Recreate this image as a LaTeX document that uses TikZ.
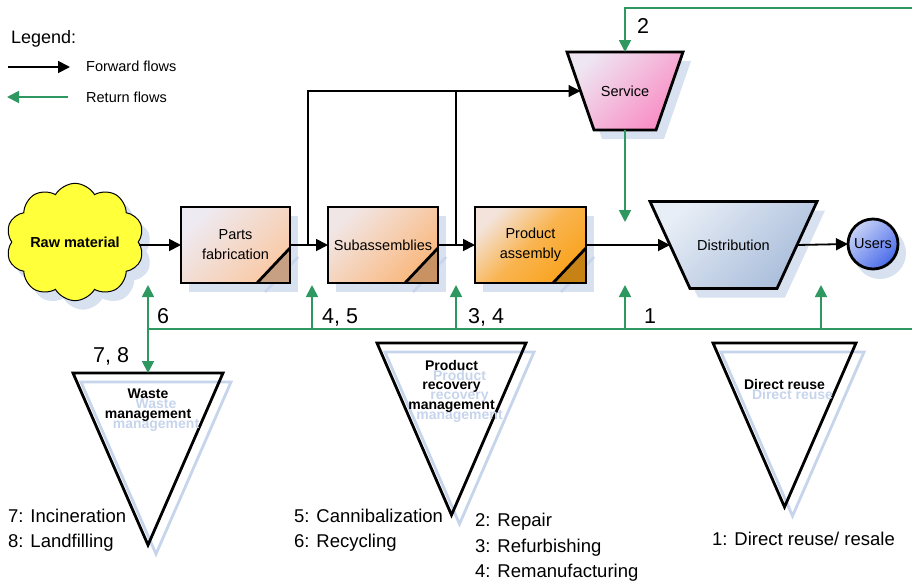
\documentclass[tikz,border=0pt]{standalone}
\usepackage{fontspec}
\setmainfont{Liberation Sans}
\usetikzlibrary{shapes.geometric,shapes.symbols,arrows.meta,calc,backgrounds}

\definecolor{retgreen}{RGB}{46,152,96}
\definecolor{shadowblue}{HTML}{D8E1F0}
\definecolor{ghostblue}{HTML}{C6D4EC}
\definecolor{cloudyellow}{HTML}{FFFF3A}
\definecolor{pfA}{HTML}{EEEAF2}
\definecolor{pfB}{HTML}{F9C9A4}
\definecolor{subA}{HTML}{F1E6E6}
\definecolor{subB}{HTML}{FAB77C}
\definecolor{paA}{HTML}{F3E3DA}
\definecolor{paM}{HTML}{F9B450}
\definecolor{paB}{HTML}{F9A31C}
\definecolor{svcA}{HTML}{EEE6F2}
\definecolor{svcB}{HTML}{F98CC4}
\definecolor{distA}{HTML}{E8EEF6}
\definecolor{distB}{HTML}{A8BCDA}
\definecolor{usrA}{HTML}{C8D3F6}
\definecolor{usrB}{HTML}{4A6BEA}

\begin{document}
\begin{tikzpicture}[x=1pt,y=-1pt,
  fwdarrow/.style={draw=black,line width=1.8pt,-{Triangle[length=12pt,width=12pt]}},
  branch/.style={draw=black,line width=1.2pt},
  brancharrow/.style={branch,-{Triangle[length=12pt,width=12pt]}},
  retline/.style={draw=retgreen,line width=1.8pt},
  retarrow/.style={retline,-{Triangle[length=12pt,width=12pt]}},
  boxtext/.style={font=\fontsize{14.5}{20}\selectfont,align=center},
  stagebox/.style={rectangle,draw=black,line width=2.8pt,outer sep=0pt,inner sep=2pt,
    minimum height=76pt,boxtext},
  trapholder/.style={rectangle,outer sep=0pt,inner sep=0pt,boxtext},
  trapedge/.style={draw=black,line width=2.8pt,line join=miter},
  cloudshape/.style={cloud,cloud puffs=10,cloud puff arc=120,aspect=1.27,
    minimum width=122pt,minimum height=96pt,inner sep=0pt,
    font=\bfseries\fontsize{14.5}{17}\selectfont},
  triedge/.style={draw=black,line width=2.8pt,line join=miter},
  triedgeghost/.style={draw=ghostblue,line width=2.8pt},
  trilbl/.style={inner sep=0pt,align=center,font=\bfseries\fontsize{14}{19.5}\selectfont},
  ghostlbl/.style={trilbl,text=ghostblue},
  keylbl/.style={inner sep=0pt,anchor=west,font=\fontsize{14.5}{17}\selectfont},
  listlbl/.style={inner sep=0pt,anchor=base west,font=\fontsize{18.5}{22}\selectfont},
  numlbl/.style={inner sep=0pt,anchor=base west,font=\fontsize{21.5}{24}\selectfont}
]
\useasboundingbox (0,0) rectangle (912,582);

% ---------- legend ----------
\node[inner sep=0pt,anchor=base west,font=\fontsize{18}{20}\selectfont] (legend) at (11,43) {Legend:};
\coordinate (keyF1) at (8,67);
\coordinate (keyF2) at (70,67);
\draw[fwdarrow] (keyF1) -- (keyF2);
\node[keylbl] (keyfwd) at (86,66) {Forward flows};
\coordinate (keyR1) at (68,97);
\coordinate (keyR2) at (7,97);
\draw[retarrow] (keyR1) -- (keyR2);
\node[keylbl] (keyret) at (86,97) {Return flows};

% ---------- forward chain ----------
\node[cloudshape,draw=black,line width=1pt,fill=cloudyellow] (raw) at (75,242) {Raw material};
\node[stagebox,minimum width=109pt,top color=pfA,bottom color=pfB,shading angle=45]
  (pf) at (235.5,245) {Parts\\fabrication};
\node[stagebox,minimum width=110pt,top color=subA,bottom color=subB,shading angle=45]
  (sub) at (383,245) {Subassemblies};
\node[stagebox,minimum width=111pt,top color=paA,bottom color=paB,middle color=paM,shading angle=45]
  (pa) at (530.5,245) {Product\\assembly};
% the trapezoids are drawn from these holders (see the background layer)
\node[trapholder,minimum width=116pt,minimum height=78pt] (svc) at (625,91) {Service};
\node[trapholder,minimum width=167pt,minimum height=87pt] (dist) at (733.5,245) {Distribution};
\node[circle,draw=black,line width=2.8pt,minimum size=50pt,inner sep=0pt,outer sep=0pt,
  boxtext,top color=usrA,bottom color=usrB,shading angle=45] (users) at (873,244) {Users};
% mid points of the slanted sides
\coordinate (svcL) at ($(svc.west)+(13.5,0)$);
\coordinate (distL) at ($(dist.west)+(20,0)$);
\coordinate (distR) at ($(dist.east)+(-20,0)$);

% folded corners of the stage boxes
\foreach \b in {pf,sub,pa}{
  \fill[black,opacity=.2] ($(\b.south east)+(-33,0)$) -- (\b.south east) -- ($(\b.south east)+(0,-35)$) -- cycle;
  \draw[line width=2.8pt] ($(\b.south east)+(-33,0)$) -- ($(\b.south east)+(0,-35)$);
}

% forward flows
\draw[fwdarrow] (raw.east |- pf.west) -- (pf.west);
\draw[fwdarrow] (pf.east) -- (sub.west);
\draw[fwdarrow] (sub.east) -- (pa.west);
\draw[fwdarrow] (pa.east) -- (distL);
\draw[fwdarrow] (distR) -- (users.west);
\coordinate (j1) at (308,245);
\coordinate (j2) at (456,245);
\draw[brancharrow] (j1) |- (svcL);
\draw[branch] (j2) -- (j2 |- svcL);

% ---------- recovery options ----------
\coordinate (wasteTop) at (148,373);
\draw[triedge] (73,373) -- (223,373) -- (148,545) -- cycle;
\draw[triedge] (377,343) -- (526,343) -- (451.5,515) -- cycle;
\draw[triedge] (713,343) -- (856,343) -- (784.5,507) -- cycle;

\node[ghostlbl] at (156,415) {Waste\\management};
\node[ghostlbl] at (459.5,396) {Product\\recovery\\management};
\node[ghostlbl] at (792.5,394) {Direct reuse};
\node[trilbl] (waste) at (148,405) {Waste\\management};
\node[trilbl] (prm) at (451.5,386) {Product\\recovery\\management};
\node[trilbl] (reuse) at (784.5,384) {Direct reuse};

% ---------- return flows ----------
\coordinate (topR) at (912,8);
\draw[retarrow] (topR) -| (svc.north);
\coordinate (svcOut) at (625,222);
\draw[retarrow] (svc.south) -- (svcOut);

\coordinate (gL) at (148,329);
\coordinate (gR) at (912,329);
\draw[retline] (gL) -- (gR);
\draw[retarrow] (gL) -- (wasteTop);
\foreach \x in {148,312,456,625,821}{
  \coordinate (up\x) at (\x,329);
  \coordinate (tip\x) at (\x,285);
  \draw[retarrow] (up\x) -- (tip\x);
}

% flow numbers
\node[numlbl] (n2) at (637,33) {2};
\node[numlbl] (n6) at (157,323) {6};
\node[numlbl] (n78) at (93,362) {7, 8};
\node[numlbl] (n45) at (322,323) {4, 5};
\node[numlbl] (n34) at (468,323) {3, 4};
\node[numlbl] (n1) at (644,323) {1};

% option lists
\node[listlbl] (o7) at (8,522) {7: Incineration};
\node[listlbl] (o8) at (8,547) {8: Landfilling};
\node[listlbl] (o5) at (294,522) {5: Cannibalization};
\node[listlbl] (o6) at (294,547) {6: Recycling};
\node[listlbl] (o2) at (475,526) {2: Repair};
\node[listlbl] (o3) at (475,552) {3: Refurbishing};
\node[listlbl] (o4) at (475,577) {4: Remanufacturing};
\node[listlbl] (o1) at (712,545) {1: Direct reuse/ resale};

% ---------- drop shadows and trapezoid bodies ----------
\begin{scope}[on background layer]
  \node[cloudshape,fill=shadowblue] at ([shift={(8,9)}]raw.center) {\phantom{Raw material}};
  \foreach \b in {pf,sub,pa}{
    \fill[shadowblue] ([shift={(8,9)}]\b.north west) rectangle ([shift={(8,9)}]\b.south east);
    \draw[ghostblue,line width=2.5pt] ([shift={(-25,9)}]\b.south east) -- ([shift={(8,-26)}]\b.south east);
  }
  \foreach \t/\i in {svc/27,dist/40}{
    \fill[shadowblue] ([shift={(8,9)}]\t.north west) -- ([shift={(8,9)}]\t.north east)
      -- ([shift={(8-\i,9)}]\t.south east) -- ([shift={(8+\i,9)}]\t.south west) -- cycle;
  }
  \fill[shadowblue] ([shift={(7,9)}]users.center) circle[radius=26pt];
  \draw[triedgeghost] (81,382) -- (231,382) -- (156,554) -- cycle;
  \draw[triedgeghost] (385,352) -- (534,352) -- (459.5,524) -- cycle;
  \draw[triedgeghost] (721,352) -- (864,352) -- (792.5,516) -- cycle;
  \path[trapedge,top color=svcA,bottom color=svcB,shading angle=45]
    (svc.north west) -- (svc.north east) -- ($(svc.south east)+(-27,0)$) -- ($(svc.south west)+(27,0)$) -- cycle;
  \path[trapedge,top color=distA,bottom color=distB,shading angle=45]
    (dist.north west) -- (dist.north east) -- ($(dist.south east)+(-40,0)$) -- ($(dist.south west)+(40,0)$) -- cycle;
\end{scope}
\end{tikzpicture}
\end{document}
